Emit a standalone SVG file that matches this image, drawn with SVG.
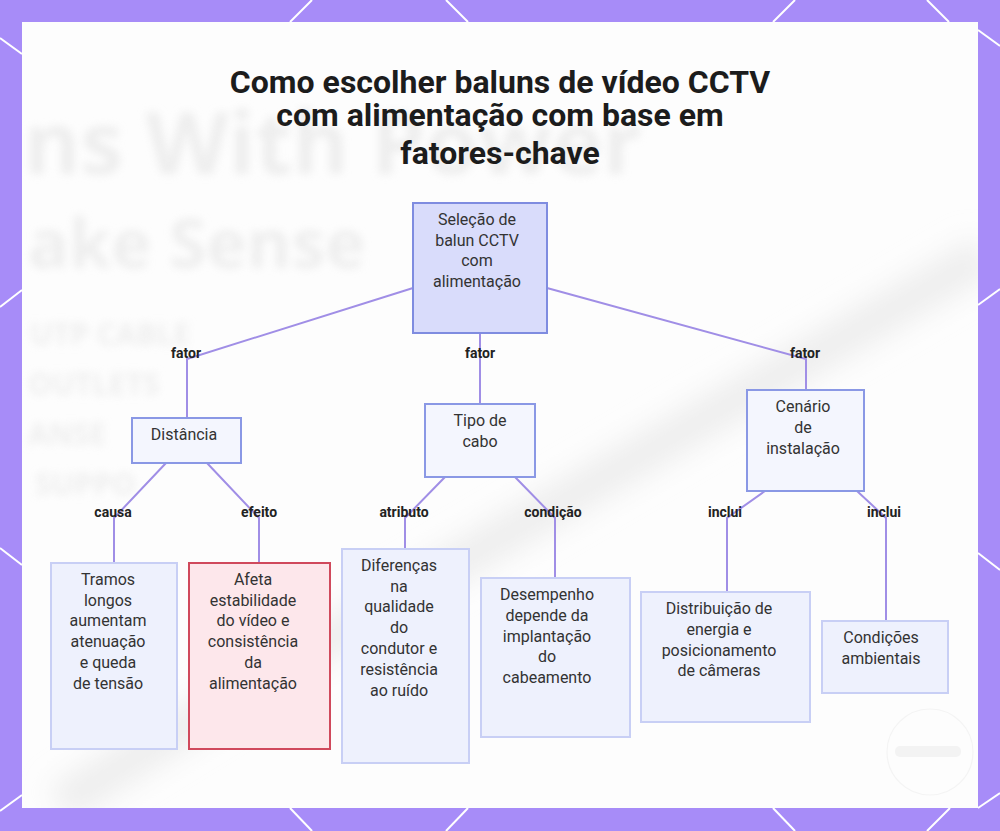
<svg xmlns="http://www.w3.org/2000/svg" width="1000" height="831" viewBox="0 0 1000 831">
<defs>
<style>
.frame-line{stroke:#ffffff;stroke-width:2;fill:none}
.title{font-family:Roboto,"Liberation Sans",sans-serif;font-weight:700;font-size:32px;fill:#1c1c1c;text-anchor:middle}
.nt{font-family:Roboto,"Liberation Sans",sans-serif;font-size:16px;fill:#333333;text-anchor:middle}
.el{font-family:Roboto,"Liberation Sans",sans-serif;font-weight:700;font-size:14px;fill:#222222;text-anchor:middle}
.root{fill:#d9dcfb;stroke:#7f8ce0;stroke-width:2}
.mid{fill:#f4f6fe;stroke:#8a98e5;stroke-width:2}
.leaf{fill:#eef1fd;stroke:#c8cff5;stroke-width:2}
.warn{fill:#fde7eb;stroke:#d0495c;stroke-width:2}
.edge{fill:none;stroke:#a08ee6;stroke-width:2}
.bgtxt{font-family:"Open Sans","Liberation Sans",sans-serif;font-weight:700;fill:#e9e9e9}
</style>
<filter id="blur" x="-10%" y="-30%" width="120%" height="160%"><feGaussianBlur stdDeviation="4"/></filter>
<filter id="blur2" x="-20%" y="-50%" width="140%" height="200%"><feGaussianBlur stdDeviation="14"/></filter>
<clipPath id="panel"><rect x="22" y="22" width="956" height="786"/></clipPath>
</defs>
<rect x="0" y="0" width="1000" height="831" fill="#a78cf8"/>
<g id="frame-lines">
<line class="frame-line" x1="312" y1="0" x2="290" y2="22"/>
<line class="frame-line" x1="446" y1="0" x2="468" y2="22"/>
<line class="frame-line" x1="795" y1="0" x2="773" y2="22"/>
<line class="frame-line" x1="927" y1="0" x2="949" y2="22"/>
<line class="frame-line" x1="290" y1="808" x2="312" y2="831"/>
<line class="frame-line" x1="468" y1="808" x2="446" y2="831"/>
<line class="frame-line" x1="773" y1="808" x2="795" y2="831"/>
<line class="frame-line" x1="950" y1="808" x2="927" y2="831"/>
<line class="frame-line" x1="0" y1="38" x2="22" y2="54"/>
<line class="frame-line" x1="22" y1="290" x2="0" y2="307"/>
<line class="frame-line" x1="0" y1="548" x2="22" y2="565"/>
<line class="frame-line" x1="22" y1="795" x2="0" y2="811"/>
<line class="frame-line" x1="978" y1="30" x2="1000" y2="46"/>
<line class="frame-line" x1="978" y1="305" x2="1000" y2="289"/>
<line class="frame-line" x1="978" y1="553" x2="1000" y2="570"/>
<line class="frame-line" x1="978" y1="808" x2="1000" y2="793"/>
</g>
<rect x="22" y="22" width="956" height="786" fill="#fdfdfd"/>
<g id="background" clip-path="url(#panel)">
<path d="M60 805 C 300 650, 600 480, 985 255" stroke="#eeeeee" stroke-width="40" fill="none" filter="url(#blur2)"/>
<g filter="url(#blur)" opacity="0.75">
<text class="bgtxt" x="24" y="174" font-size="86">ns With Power</text>
<text class="bgtxt" x="28" y="268" font-size="68" font-weight="600">ake Sense</text>
<text class="bgtxt" x="30" y="345" font-size="30">UTP CABLE</text>
<text class="bgtxt" x="28" y="395" font-size="30">OUTLETS</text>
<text class="bgtxt" x="28" y="445" font-size="30">ANSE</text>
<text class="bgtxt" x="35" y="495" font-size="30">SUPPO</text>
</g>
<circle cx="930" cy="752" r="43" fill="none" stroke="#f4f4f4" stroke-width="1.2"/>
<rect x="895" y="746" width="66" height="11" rx="5" fill="#f3f3f3"/>
</g>
<g id="title">
<text class="title" x="500" y="93">Como escolher baluns de vídeo CCTV</text>
<text class="title" x="500" y="126">com alimentação com base em</text>
<text class="title" x="500" y="164">fatores-chave</text>
</g>
<g id="connectors">
<path class="edge" d="M413 288 L187 359 L187 418"/>
<path class="edge" d="M480 333 L480 404"/>
<path class="edge" d="M547 288 L806 359 L806 390"/>
<path class="edge" d="M166 463 L114 518 L114 563"/>
<path class="edge" d="M207 463 L259 518 L259 563"/>
<path class="edge" d="M445 477 L405 518 L405 549"/>
<path class="edge" d="M515 477 L555 518 L555 578"/>
<path class="edge" d="M765 491 L727 518 L727 592"/>
<path class="edge" d="M857 491 L886 518 L886 621"/>
</g>
<g id="edge-labels">
<text class="el" x="186" y="358">fator</text>
<text class="el" x="480" y="358">fator</text>
<text class="el" x="805" y="358">fator</text>
<text class="el" x="113" y="517">causa</text>
<text class="el" x="259" y="517">efeito</text>
<text class="el" x="404" y="517">atributo</text>
<text class="el" x="553" y="517">condição</text>
<text class="el" x="725" y="517">inclui</text>
<text class="el" x="884" y="517">inclui</text>
</g>
<g id="node-root">
<rect class="root" x="413" y="203" width="134" height="130"/>
<text class="nt" x="477" y="225">Seleção de</text>
<text class="nt" x="477" y="246">balun CCTV</text>
<text class="nt" x="477" y="266">com</text>
<text class="nt" x="477" y="287">alimentação</text>
</g>
<g id="node-distancia">
<rect class="mid" x="132" y="418" width="109" height="45"/>
<text class="nt" x="184" y="440">Distância</text>
</g>
<g id="node-cabo">
<rect class="mid" x="425" y="404" width="110" height="73"/>
<text class="nt" x="480" y="426">Tipo de</text>
<text class="nt" x="480" y="447">cabo</text>
</g>
<g id="node-cenario">
<rect class="mid" x="747" y="390" width="117" height="101"/>
<text class="nt" x="803" y="412">Cenário</text>
<text class="nt" x="803" y="433">de</text>
<text class="nt" x="803" y="454">instalação</text>
</g>
<g id="node-tramos">
<rect class="leaf" x="51" y="563" width="126" height="186"/>
<text class="nt" x="108" y="585">Tramos</text>
<text class="nt" x="108" y="606">longos</text>
<text class="nt" x="108" y="626">aumentam</text>
<text class="nt" x="108" y="647">atenuação</text>
<text class="nt" x="108" y="668">e queda</text>
<text class="nt" x="108" y="689">de tensão</text>
</g>
<g id="node-afeta">
<rect class="warn" x="189" y="563" width="141" height="186"/>
<text class="nt" x="253" y="585">Afeta</text>
<text class="nt" x="253" y="606">estabilidade</text>
<text class="nt" x="253" y="626">do vídeo e</text>
<text class="nt" x="253" y="647">consistência</text>
<text class="nt" x="253" y="668">da</text>
<text class="nt" x="253" y="689">alimentação</text>
</g>
<g id="node-diferencas">
<rect class="leaf" x="342" y="549" width="127" height="214"/>
<text class="nt" x="399" y="571">Diferenças</text>
<text class="nt" x="399" y="592">na</text>
<text class="nt" x="399" y="612">qualidade</text>
<text class="nt" x="399" y="633">do</text>
<text class="nt" x="399" y="654">condutor e</text>
<text class="nt" x="399" y="675">resistência</text>
<text class="nt" x="399" y="696">ao ruído</text>
</g>
<g id="node-desempenho">
<rect class="leaf" x="481" y="578" width="149" height="159"/>
<text class="nt" x="547" y="600">Desempenho</text>
<text class="nt" x="547" y="621">depende da</text>
<text class="nt" x="547" y="642">implantação</text>
<text class="nt" x="547" y="662">do</text>
<text class="nt" x="547" y="683">cabeamento</text>
</g>
<g id="node-distribuicao">
<rect class="leaf" x="641" y="592" width="169" height="130"/>
<text class="nt" x="719" y="614">Distribuição de</text>
<text class="nt" x="719" y="635">energia e</text>
<text class="nt" x="719" y="656">posicionamento</text>
<text class="nt" x="719" y="676">de câmeras</text>
</g>
<g id="node-condicoes">
<rect class="leaf" x="822" y="621" width="126" height="72"/>
<text class="nt" x="881" y="643">Condições</text>
<text class="nt" x="881" y="664">ambientais</text>
</g>
</svg>
